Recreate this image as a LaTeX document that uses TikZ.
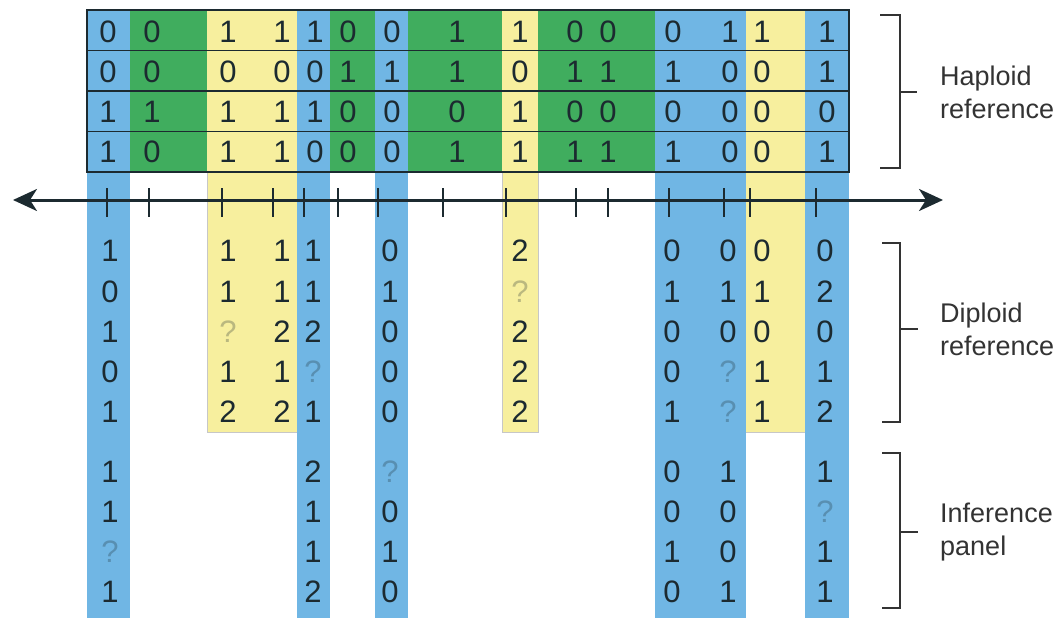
\documentclass[tikz,border=0pt]{standalone}
\usepackage{fontspec}
\setmainfont{Liberation Sans}
\usetikzlibrary{arrows.meta}
\definecolor{cblue}{HTML}{70B6E4}
\definecolor{cgreen}{HTML}{40AD5E}
\definecolor{cyellow}{HTML}{F7EF9E}
\definecolor{ink}{HTML}{1C2A30}
\definecolor{labelgray}{HTML}{333333}
\tikzset{
  dig/.style={font=\fontsize{31}{31}\selectfont, text=ink, inner sep=0pt, text height=22pt, text depth=0pt, anchor=center},
  sym?/.style={text opacity=0.28},
  lab/.style={font=\fontsize{27}{33}\selectfont, text=labelgray, align=left, anchor=west, inner sep=0pt},
  brk/.style={draw=labelgray, line width=2pt},
  tickmark/.style={draw=ink, line width=2.4pt},
  yedge/.style={draw=black!22, line width=0.8pt},
}
\begin{document}
\begin{tikzpicture}[x=1pt,y=-1pt]
\useasboundingbox (0,0) rectangle (1063,618);
% colour strips
\foreach \a/\b in {87/130,297/330,375/408,655/746,805/849}
  \fill[cblue] (\a,10) rectangle (\b,618);
\foreach \a/\b in {130/207,330/375,408/502,538/655}
  \fill[cgreen] (\a,10) rectangle (\b,172);
\foreach \a/\b in {207/297,502/538,746/805}
  \fill[cyellow] (\a,10) rectangle (\b,432);
\draw[yedge] (207,172) -- (207,432) -- (297,432);
\draw[yedge] (502,172) -- (502,432) -- (538,432) -- (538,172);
\draw[yedge] (746,432) -- (805,432);
% haploid box
\draw[line width=2pt, draw=ink] (87,10) rectangle (849,172);
\foreach \yy in {50.5,91,131.5}
  \draw[line width=1.6pt, draw=ink] (87,\yy) -- (849,\yy);
% haploid digits
\foreach \xx/\a/\b/\c/\d [count=\k] in {108/0/0/1/1,152/0/0/1/0,228/1/0/1/1,282/1/0/1/1,315/1/0/1/0,348/0/1/0/0,392/0/1/0/0,457/1/1/0/1,520/1/0/1/1,575/0/1/0/1,608/0/1/0/1,673/0/1/0/1,730/1/0/0/0,762/1/0/0/0,827/1/1/0/1}{
  \node[dig, sym\a/.try] (h-\k-1) at (\xx,31.5) {\a};
  \node[dig, sym\b/.try] (h-\k-2) at (\xx,71.5) {\b};
  \node[dig, sym\c/.try] (h-\k-3) at (\xx,111.5) {\c};
  \node[dig, sym\d/.try] (h-\k-4) at (\xx,151.5) {\d};
}
% axis
\coordinate (axL) at (13,200);
\coordinate (axR) at (943,200);
\draw[ink, line width=3pt, {Stealth[length=24pt,width=22pt,inset=7pt]}-{Stealth[length=24pt,width=22pt,inset=7pt]}] (axL) -- (axR);
\foreach \xx [count=\k] in {107,149,222,273,304,338,378,443,506,576,608,669,724,750,816}{
  \coordinate (t-\k-a) at (\xx,188);
  \coordinate (t-\k-b) at (\xx,217);
  \draw[tickmark] (t-\k-a) -- (t-\k-b);
}
% diploid digits
\foreach \xx/\a/\b/\c/\d/\e [count=\k] in {110/1/0/1/0/1,228/1/1/?/1/2,282/1/1/2/1/2,313/1/1/2/?/1,390/0/1/0/0/0,520/2/?/2/2/2,672/0/1/0/0/1,728/0/1/0/?/?,762/0/1/0/1/1,825/0/2/0/1/2}{
  \node[dig, sym\a/.try] (d-\k-1) at (\xx,250) {\a};
  \node[dig, sym\b/.try] (d-\k-2) at (\xx,291) {\b};
  \node[dig, sym\c/.try] (d-\k-3) at (\xx,331) {\c};
  \node[dig, sym\d/.try] (d-\k-4) at (\xx,371) {\d};
  \node[dig, sym\e/.try] (d-\k-5) at (\xx,411) {\e};
}
% inference digits
\foreach \xx/\a/\b/\c/\d [count=\k] in {110/1/1/?/1,313/2/1/1/2,390/?/0/1/0,672/0/0/1/0,728/1/0/0/1,825/1/?/1/1}{
  \node[dig, sym\a/.try] (i-\k-1) at (\xx,471) {\a};
  \node[dig, sym\b/.try] (i-\k-2) at (\xx,511) {\b};
  \node[dig, sym\c/.try] (i-\k-3) at (\xx,551) {\c};
  \node[dig, sym\d/.try] (i-\k-4) at (\xx,591) {\d};
}
% brackets and labels
\draw[brk] (880,15) -- (900,15) -- (900,168) -- (880,168);
\draw[brk] (900,92) -- (917,92);
\node[lab] (hap) at (940,92) {Haploid\\reference};
\draw[brk] (882,243) -- (900,243) -- (900,422) -- (882,422);
\draw[brk] (900,329) -- (918,329);
\node[lab] (dip) at (940,329) {Diploid\\reference};
\draw[brk] (882,453) -- (900,453) -- (900,608) -- (882,608);
\draw[brk] (900,532) -- (918,532);
\node[lab] (inf) at (940,532) {Inference\\panel};
\end{tikzpicture}
\end{document}
